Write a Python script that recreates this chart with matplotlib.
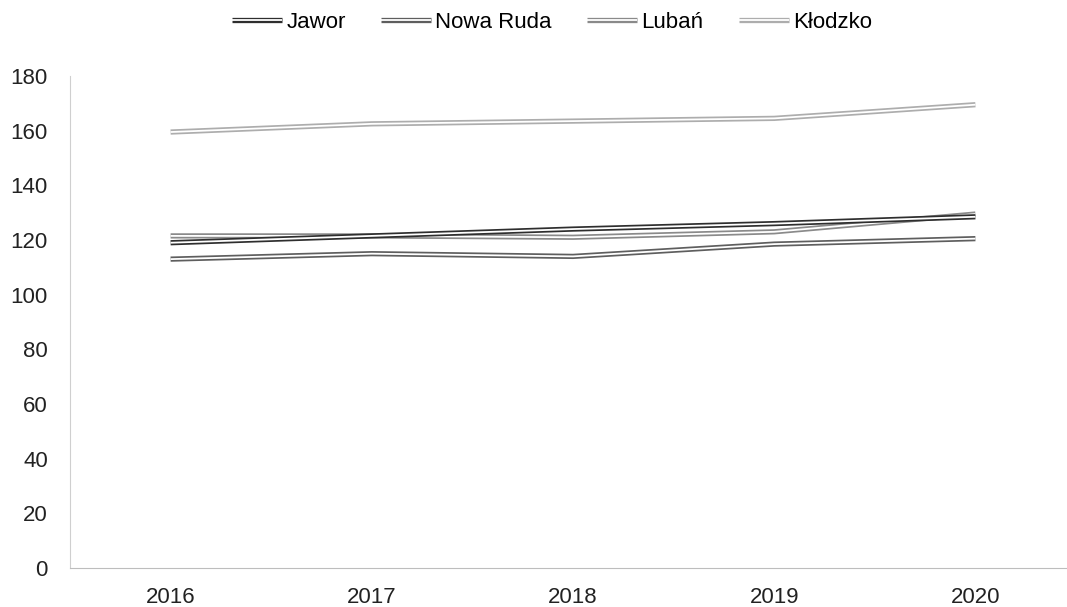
import numpy as np
import matplotlib
matplotlib.use("Agg")
import matplotlib.pyplot as plt
import matplotlib.patheffects as pe
from matplotlib.lines import Line2D

plt.rcParams['font.family'] = ['Liberation Sans', 'DejaVu Sans']

# dane
years = ["2016", "2017", "2018", "2019", "2020"]
jawor = [119.0, 121.5, 124.0, 126.0, 128.5]
nowa_ruda = [113.0, 115.0, 114.0, 118.5, 120.5]
luban = [121.5, 121.5, 121.0, 123.0, 129.5]
klodzko = [159.5, 162.5, 163.5, 164.5, 169.5]

series = [("Jawor", jawor, "#2e2e2e"),
          ("Nowa Ruda", nowa_ruda, "#5e5e5e"),
          ("Lubań", luban, "#8a8a8a"),
          ("Kłodzko", klodzko, "#adadad")]

fig = plt.figure(figsize=(10.67, 6.07), dpi=100)
ax = fig.add_axes([70 / 1067, 1 - 568 / 607, (1076 - 70) / 1067, (568 - 76) / 607])

x = np.arange(len(years))
# podwójna linia: gruba kreska w kolorze + biały środek
double = lambda c: [pe.Stroke(linewidth=3.8, foreground=c), pe.Stroke(linewidth=1.3, foreground="white")]

handles = []
for name, vals, col in reversed(series):
    ax.plot(x, vals, color=col, lw=3.8, path_effects=double(col), solid_capstyle="butt")
for name, vals, col in series:
    handles.append(Line2D([], [], color=col, lw=3.8, path_effects=double(col), solid_capstyle="butt", label=name))

ax.set_xlim(-0.5, 4.5)
ax.set_ylim(0, 180)
ax.set_xticks(x)
ax.set_xticklabels(years)
ax.set_yticks(np.arange(0, 181, 20))
ax.tick_params(length=0, labelsize=16, labelcolor="#222222")
ax.tick_params(axis="y", pad=16)
ax.tick_params(axis="x", pad=14)

for s in ["top", "right"]:
    ax.spines[s].set_visible(False)
ax.spines["left"].set_color("#cfcfcf")
ax.spines["bottom"].set_color("#bdbdbd")
ax.spines["left"].set_linewidth(0.8)
ax.spines["bottom"].set_linewidth(0.8)

fig.legend(handles=handles, loc="center", bbox_to_anchor=(552 / 1067, 1 - 22 / 607), ncol=4,
           frameon=False, fontsize=16, handlelength=2.25, handletextpad=0.18, columnspacing=1.6)

fig.savefig("out.png", dpi=100, facecolor="white")
